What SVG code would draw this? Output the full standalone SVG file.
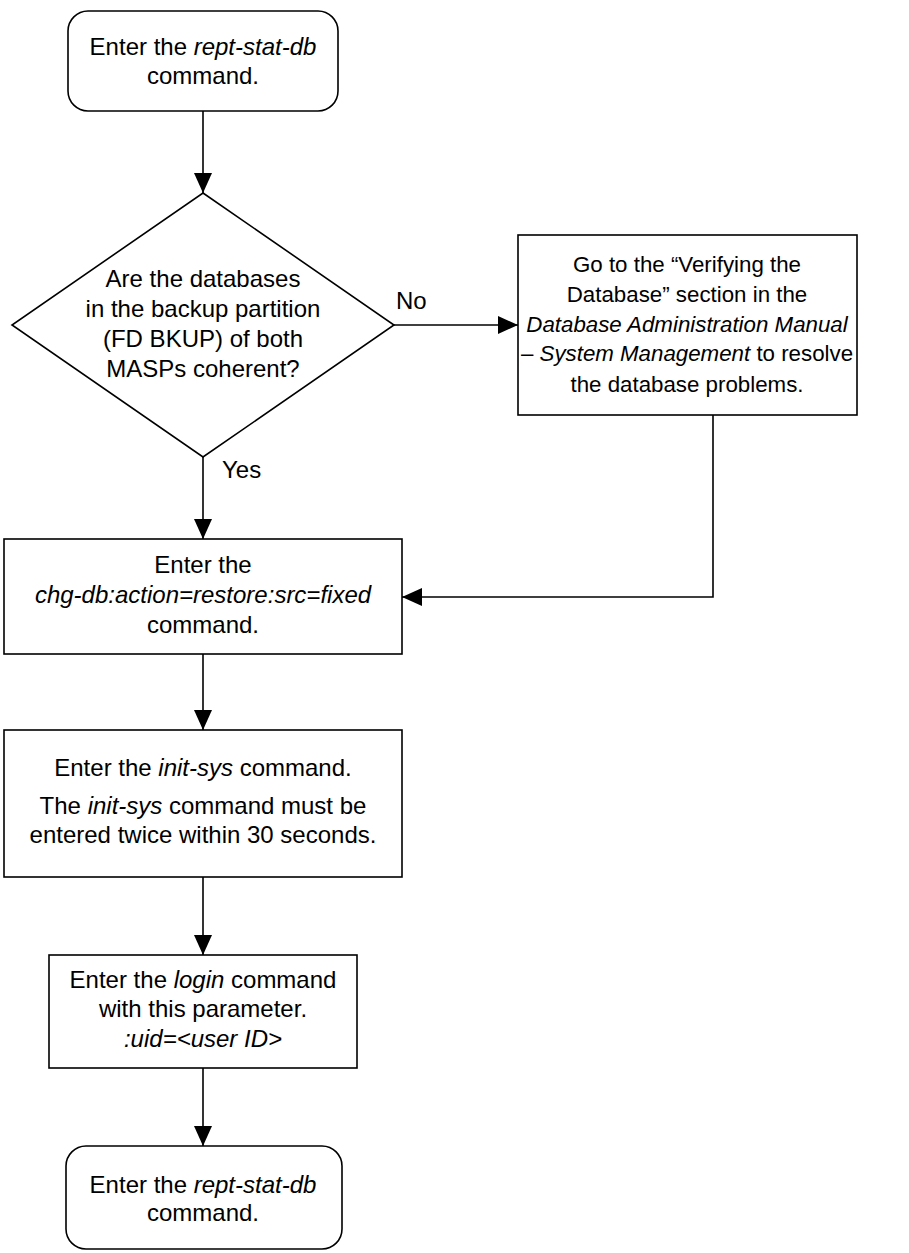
<svg xmlns="http://www.w3.org/2000/svg" width="909" height="1253" viewBox="0 0 909 1253">
<style>
.shape{fill:#fff;stroke:#000;stroke-width:1.6}
.line{fill:none;stroke:#000;stroke-width:1.6}
.t{font-family:"Liberation Sans",Arial,sans-serif;font-size:24px;fill:#000;text-anchor:middle}
.ts{font-family:"Liberation Sans",Arial,sans-serif;font-size:24px;fill:#000;text-anchor:start}
.sm{font-size:22.3px}
.i{font-style:italic}
</style>
<defs>
<marker id="arrow" markerUnits="userSpaceOnUse" markerWidth="20" markerHeight="18" refX="20" refY="9" orient="auto">
<path d="M0,0 L20,9 L0,18 z" fill="#000"/>
</marker>
</defs>
<rect width="909" height="1253" fill="#fff"/>
<g id="connectors">
<line class="line" x1="203" y1="111" x2="203" y2="193" marker-end="url(#arrow)"/>
<line class="line" x1="394" y1="325" x2="518" y2="325" marker-end="url(#arrow)"/>
<line class="line" x1="203" y1="457" x2="203" y2="539" marker-end="url(#arrow)"/>
<polyline class="line" points="713,415 713,597 402,597" marker-end="url(#arrow)"/>
<line class="line" x1="203" y1="654" x2="203" y2="730" marker-end="url(#arrow)"/>
<line class="line" x1="203" y1="877" x2="203" y2="955" marker-end="url(#arrow)"/>
<line class="line" x1="203" y1="1068" x2="203" y2="1146" marker-end="url(#arrow)"/>
<text class="ts" x="396" y="309">No</text>
<text class="ts" x="222" y="478">Yes</text>
</g>
<g id="start">
<rect class="shape" x="68" y="11" width="270" height="100" rx="20" ry="20"/>
<text class="t" x="203" y="55">Enter the <tspan class="i">rept-stat-db</tspan></text>
<text class="t" x="203" y="84">command.</text>
</g>
<g id="decision">
<polygon class="shape" points="203,193 394,325 203,457 12,325"/>
<text class="t" x="203" y="287">Are the databases</text>
<text class="t" x="203" y="317">in the backup partition</text>
<text class="t" x="203" y="347">(FD BKUP) of both</text>
<text class="t" x="203" y="377">MASPs coherent?</text>
</g>
<g id="verify">
<rect class="shape" x="518" y="235" width="339" height="180"/>
<text class="t sm" x="687" y="272">Go to the “Verifying the</text>
<text class="t sm" x="687" y="302">Database” section in the</text>
<text class="t sm" x="687" y="332"><tspan class="i">Database Administration Manual</tspan></text>
<text class="t sm" x="687" y="361">– <tspan class="i">System Management</tspan> to resolve</text>
<text class="t sm" x="687" y="392">the database problems.</text>
</g>
<g id="restore">
<rect class="shape" x="4" y="539" width="398" height="115"/>
<text class="t" x="203" y="573">Enter the</text>
<text class="t" x="203" y="603"><tspan class="i">chg-db:action=restore:src=fixed</tspan></text>
<text class="t" x="203" y="633">command.</text>
</g>
<g id="initsys">
<rect class="shape" x="4" y="730" width="398" height="147"/>
<text class="t" x="203" y="776">Enter the <tspan class="i">init-sys</tspan> command.</text>
<text class="t" x="203" y="814">The <tspan class="i">init-sys</tspan> command must be</text>
<text class="t" x="203" y="843">entered twice within 30 seconds.</text>
</g>
<g id="login">
<rect class="shape" x="49" y="955" width="308" height="113"/>
<text class="t" x="203" y="988">Enter the <tspan class="i">login</tspan> command</text>
<text class="t" x="203" y="1017">with this parameter.</text>
<text class="t" x="203" y="1047"><tspan class="i">:uid=&lt;user ID&gt;</tspan></text>
</g>
<g id="end">
<rect class="shape" x="66" y="1146" width="276" height="103" rx="20" ry="20"/>
<text class="t" x="203" y="1193">Enter the <tspan class="i">rept-stat-db</tspan></text>
<text class="t" x="203" y="1221">command.</text>
</g>
</svg>
